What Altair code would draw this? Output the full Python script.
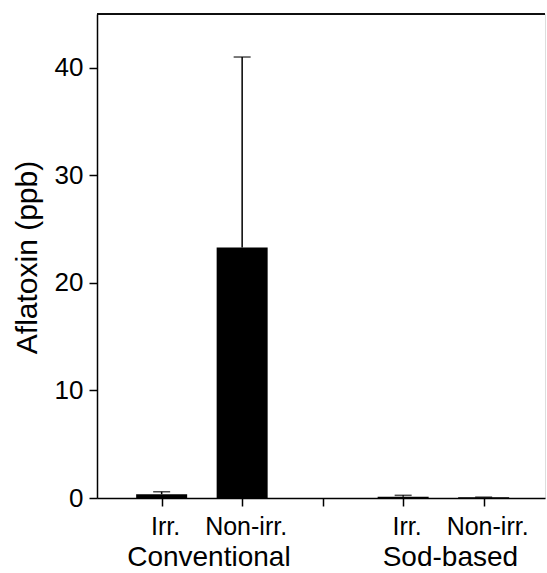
import altair as alt
import pandas as pd

# Data
positions = [1, 2, 4, 5]
treatments = ["Irr.", "Non-irr.", "Irr.", "Non-irr."]
systems = ["Conventional", "Conventional", "Sod-based", "Sod-based"]
means = [0.35, 23.3, 0.12, 0.08]
uppers = [0.58, 41.0, 0.25, 0.08]

group_names = ["Conventional", "Sod-based"]
group_centers = [1.5, 4.5]

df = pd.DataFrame({"pos": positions, "treatment": treatments, "system": systems,
                   "mean": means, "upper": uppers})
gdf = pd.DataFrame({"pos": group_centers, "name": group_names})

FONT = "Liberation Sans"
W, H = 448, 484

xscale = alt.Scale(domain=[0.259, 5.70], nice=False, zero=False)
yscale = alt.Scale(domain=[0, 45], nice=False)

xaxis = alt.Axis(values=[1, 2, 3, 4, 5], labels=False, title=None,
                 grid=False, domainColor="black", domainWidth=1.5,
                 tickColor="black", tickWidth=1.5, tickSize=8)
yaxis = alt.Axis(values=[0, 10, 20, 30, 40], title="Aflatoxin (ppb)", grid=False,
                 domainColor="black", domainWidth=1.5, tickColor="black",
                 tickWidth=1.5, tickSize=8, labelFont=FONT, labelFontSize=26,
                 labelColor="black", labelPadding=6, titleFont=FONT,
                 titleFontSize=30, titleFontWeight="normal", titleColor="black",
                 titleX=-61, titleY=243, titleAngle=-90, titleBaseline="alphabetic",
                 titleAlign="center")

bars = alt.Chart(df).mark_bar(color="black", size=51).encode(
    x=alt.X("pos:Q", scale=xscale, axis=xaxis),
    y=alt.Y("mean:Q", scale=yscale, axis=yaxis),
)

err = alt.Chart(df).mark_rule(color="black", strokeWidth=1.5).encode(
    x="pos:Q", y="mean:Q", y2="upper:Q"
)

caps = alt.Chart(df).mark_tick(color="black", orient="horizontal", size=17,
                               thickness=1.5).encode(
    x="pos:Q", y="upper:Q"
)

ticklabels = alt.Chart(df).mark_text(font=FONT, fontSize=25, color="black",
                                     baseline="alphabetic", align="center", dx=4).encode(
    x="pos:Q", y=alt.value(521), text="treatment:N"
)

groups = alt.Chart(gdf).mark_text(font=FONT, fontSize=28, color="black",
                                  baseline="alphabetic", align="center", dx=7).encode(
    x="pos:Q", y=alt.value(552), text="name:N"
)

top = alt.Chart(gdf).mark_rule(color="black", strokeWidth=1.5).encode(
    x=alt.value(0), x2=alt.value(W), y=alt.value(0)
)

chart = alt.layer(bars, err, caps, ticklabels, groups, top).properties(
    width=W, height=H,
    autosize=alt.AutoSizeParams(type="none"),
    padding={"left": 97, "top": 14, "right": 2, "bottom": 75},
).configure_view(stroke=None).configure(background="white")

chart.save("out.html", embed_options={"renderer": "svg", "actions": False})
